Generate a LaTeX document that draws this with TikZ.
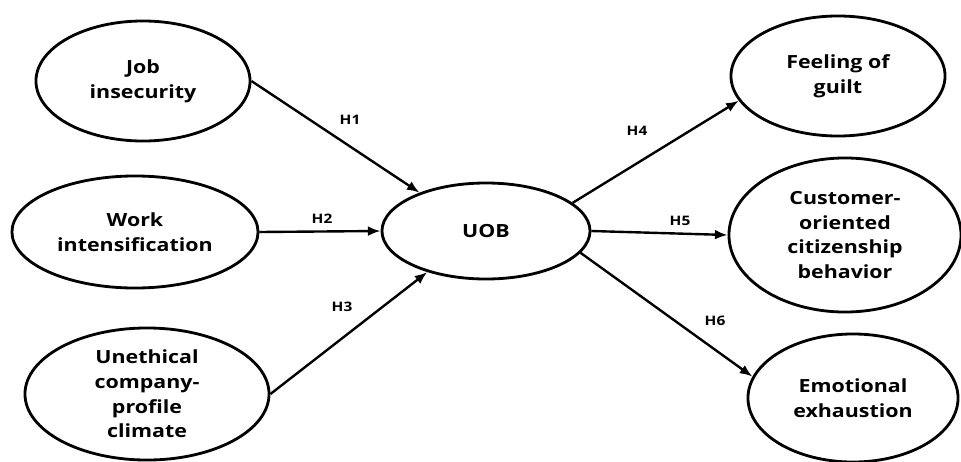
\documentclass[tikz,border=0pt]{standalone}
\usepackage{fontspec}
\setmainfont[FakeStretch=1.18, Ligatures=NoCommon]{Open Sans}
\usepackage{tikz}
\usetikzlibrary{arrows.meta}
\usetikzlibrary{shapes.geometric}
\tikzset{>=latex}
\tikzstyle{construct} = [ellipse, draw=black, line width=2pt, inner sep=0pt, align=center, font=\fontsize{12.9}{17.6}\selectfont\bfseries]
\tikzstyle{hyp} = [-{Latex[length=9pt, width=7pt]}, line width=1.7pt]
\tikzstyle{hlabel} = [draw=none, font=\fontsize{9.3}{11}\selectfont\bfseries]

\begin{document}
\begin{tikzpicture}[x=0.025cm, y=-0.025cm]
\useasboundingbox (0,0) rectangle (961,461);
\node [construct, minimum width=5.35cm, minimum height=3.0cm] (job) at (143, 81) {Job\\insecurity};
\node [construct, minimum width=6.15cm, minimum height=2.8cm] (work) at (135, 232) {Work\\intensification};
\node [construct, minimum width=6.1cm, minimum height=3.3cm] (clim) at (147, 394) {Unethical\\company-\\profile\\climate};
\node [construct, minimum width=5.2cm, minimum height=2.4cm] (uob) at (486, 231) {UOB};
\node [construct, minimum width=5.35cm, minimum height=3.0cm] (guilt) at (838, 76) {Feeling of\\guilt};
\node [construct, minimum width=5.8cm, minimum height=3.85cm] (cust) at (845, 235) {Customer-\\oriented\\citizenship\\behavior};
\node [construct, minimum width=5.25cm, minimum height=3.2cm] (emo) at (853, 398) {Emotional\\exhaustion};
\draw [hyp] (job.east) to (uob.150);
\draw [hyp] (work.east) to (uob.west);
\draw [hyp] (clim.east) to (uob.215);
\draw [hyp] (uob.18) to (guilt.194);
\draw [hyp] (uob.east) to (cust.west);
\draw [hyp] (uob.-13) to (emo.168);
\node [hlabel] (h1) at (350, 120) {H1};
\node [hlabel] (h2) at (322, 219) {H2};
\node [hlabel] (h3) at (342, 307) {H3};
\node [hlabel] (h4) at (637, 131) {H4};
\node [hlabel] (h5) at (680, 221) {H5};
\node [hlabel] (h6) at (715, 321) {H6};
\end{tikzpicture}
\end{document}
